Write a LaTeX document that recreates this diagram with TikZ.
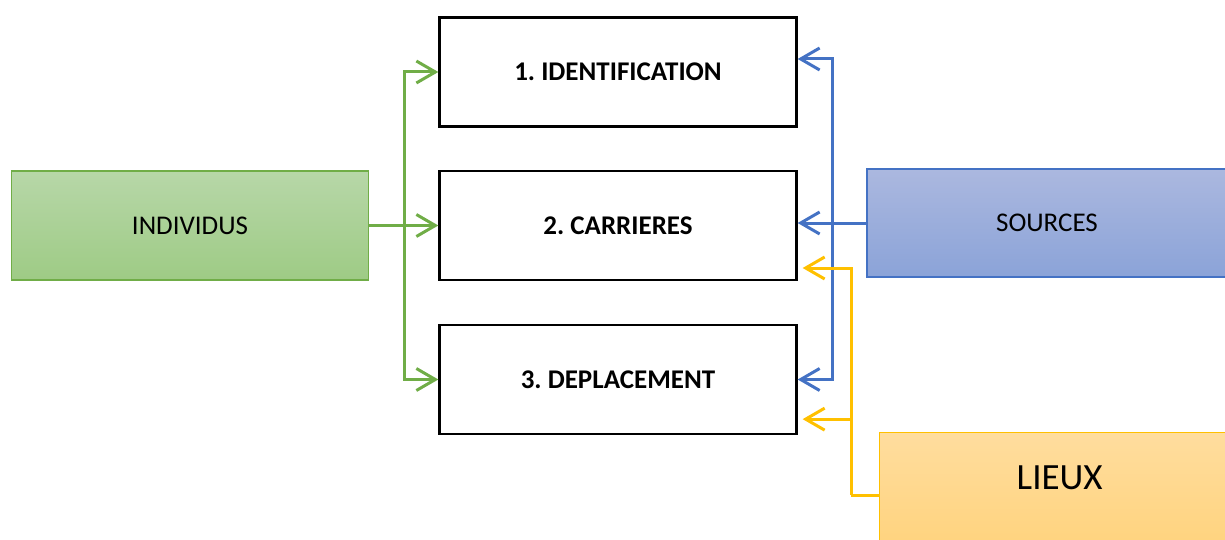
\documentclass[tikz,border=0pt]{standalone}
\usepackage{fontspec}
\setmainfont{Carlito}
\usetikzlibrary{arrows.meta}
\frenchspacing
\definecolor{gline}{RGB}{112,173,71}
\definecolor{bline}{RGB}{68,114,196}
\definecolor{yline}{RGB}{255,192,0}
\definecolor{gtop}{RGB}{183,215,168}
\definecolor{gbot}{RGB}{158,203,133}
\definecolor{btop}{RGB}{171,184,223}
\definecolor{bbot}{RGB}{139,163,216}
\definecolor{ytop}{RGB}{255,221,158}
\definecolor{ybot}{RGB}{255,211,125}
\tikzset{
  mainbox/.style={draw=black, line width=2.3pt, fill=white, minimum width=357pt, minimum height=109pt, inner sep=0pt, font=\fontsize{27}{32}\selectfont\bfseries},
  srcbox/.style={line width=1.3pt, inner sep=0pt, font=\fontsize{27}{32}\selectfont},
  conn/.style={line width=3pt, -{Straight Barb[length=19pt,width=22pt,line width=3pt]}},
  plain/.style={line width=3pt}
}
\begin{document}
\begin{tikzpicture}[x=1pt,y=-1pt]
\useasboundingbox (0,0) rectangle (1225,540);
\clip (0,0) rectangle (1225,540);
\node[mainbox] (b1) at (618,72) {\frenchspacing 1. IDENTIFICATION};
\node[mainbox] (b2) at (618,225.5) {\frenchspacing 2. CARRIERES};
\node[mainbox] (b3) at (618,379.5) {\frenchspacing 3. DEPLACEMENT};
\node[srcbox, draw=gline, top color=gtop, bottom color=gbot, minimum width=357pt, minimum height=109pt] (ind) at (190,225.5) {INDIVIDUS};
\node[srcbox, draw=bline, top color=btop, bottom color=bbot, minimum width=360pt, minimum height=108pt] (src) at (1047,223) {SOURCES};
\node[srcbox, draw=yline, top color=ytop, bottom color=ybot, minimum width=360pt, anchor=north west, text height=57pt, text depth=60pt, font=\fontsize{37}{42}\selectfont] (lieux) at (879,432) {LIEUX};
% green connectors
\coordinate (gj) at (404,225.5);
\draw[plain, gline] (ind.east) -- (gj);
\draw[conn, gline] (gj) |- (b1.west);
\draw[conn, gline] (gj) -- (b2.west);
\draw[conn, gline] (gj) |- (b3.west);
% blue connectors
\coordinate (bj) at (832,223);
\draw[conn, bline] (src.west) -- (src.west -| b2.east);
\draw[conn, bline] (bj) |- ([yshift=13pt]b1.east);
\draw[conn, bline] (bj) |- (b3.east);
% yellow connectors
\coordinate (yj) at (851,495);
\draw[plain, yline] (lieux.west |- yj) -- (yj);
\draw[conn, yline] (yj) |- ([xshift=5pt,yshift=-42.5pt]b2.east);
\draw[conn, yline] (yj) |- ([xshift=5pt,yshift=16pt]b3.south east);
\end{tikzpicture}
\end{document}
